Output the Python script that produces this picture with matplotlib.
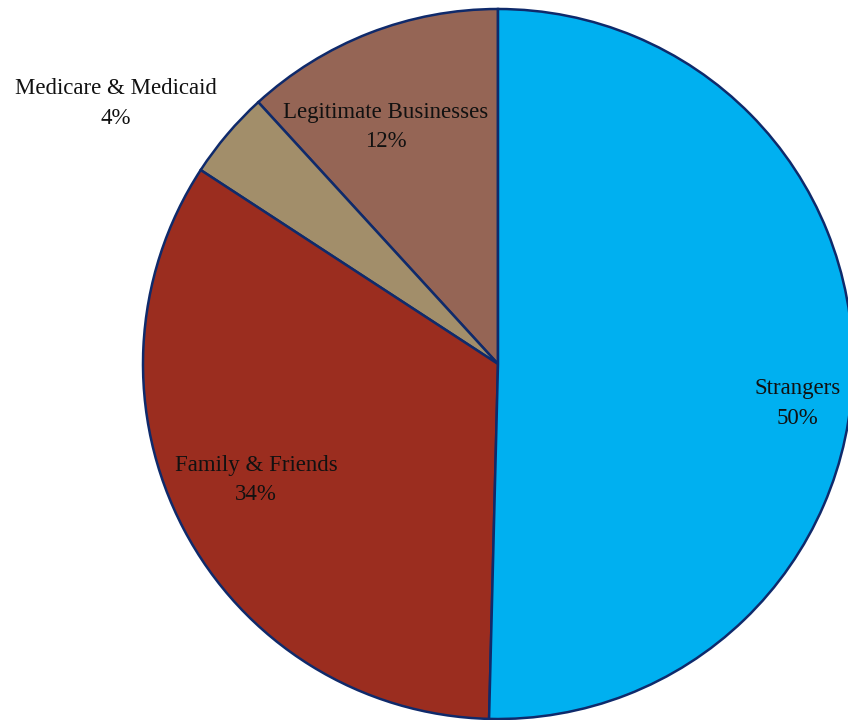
import numpy as np
import matplotlib.pyplot as plt

# slices in counter-clockwise order starting at 12 o'clock
labels = ['Legitimate Businesses', 'Medicare & Medicaid', 'Family & Friends', 'Strangers']
values = [11.8, 4.0, 33.8, 50.4]
pct_text = ['12%', '4%', '34%', '50%']
colors = ['#956555', '#A28E6A', '#9B2D1F', '#00B0F0']

# label placement (radius fraction, angle in degrees)
label_pos = [(0.75, 115.0), (1.31, 145.3), (0.75, 204.8), (0.85, -6.7)]

fig = plt.figure(figsize=(8.48, 7.2), dpi=100)
ax = fig.add_axes([143 / 848, 1 / 720, 710 / 848, 710 / 720])

wedges, _ = ax.pie(values, colors=colors, startangle=90, counterclock=True,
                   radius=1.0, wedgeprops=dict(edgecolor='#0F2A6B', linewidth=1.8))
for w in wedges:
    w.set_clip_on(False)

for lab, pct, (r, a) in zip(labels, pct_text, label_pos):
    x = r * np.cos(np.radians(a))
    y = r * np.sin(np.radians(a)) - 0.012
    ax.text(x, y, lab + '\n' + pct, ha='center', va='center', fontsize=16.5,
            family='Liberation Serif', color='#111111', linespacing=1.55)

ax.set_xlim(-1, 1)
ax.set_ylim(-1, 1)
ax.set_aspect('equal')
ax.axis('off')

fig.savefig('out.png', dpi=100)
